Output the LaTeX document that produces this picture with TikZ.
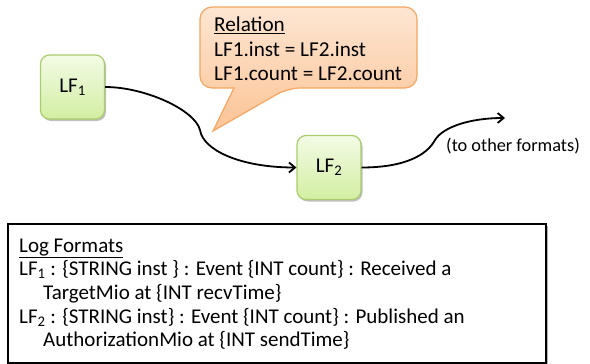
\documentclass[tikz,border=0pt]{standalone}
\usepackage{fontspec}
\setmainfont{Carlito}
\usetikzlibrary{arrows.meta,shadows}
\definecolor{lftop}{HTML}{F3FBE6}
\definecolor{lfbot}{HTML}{D3EEA2}
\definecolor{lfborder}{HTML}{A9CC6C}
\definecolor{caltop}{HTML}{FDE6D3}
\definecolor{calbot}{HTML}{FBC395}
\definecolor{calborder}{HTML}{F5A660}
\begin{document}
\begin{tikzpicture}[x=1pt,y=-1pt,
  lfbox/.style={draw=lfborder, line width=1.2pt, rounded corners=9pt,
    top color=lftop, bottom color=lfbot, minimum width=64pt, minimum height=64pt,
    inner sep=0pt, font=\fontsize{21}{24}\selectfont,
    drop shadow={shadow xshift=1.5pt,shadow yshift=-2pt,opacity=0.25,fill=black}},
  conn/.style={line width=1.8pt, -{Straight Barb[length=6pt,width=10pt]}},
  calloutbg/.style={draw=calborder, line width=1.2pt, top color=caltop, bottom color=calbot},
  logbox/.style={draw=black, line width=1.8pt, fill=white, inner sep=0pt,
    drop shadow={shadow xshift=2pt,shadow yshift=-2pt,opacity=0.3,fill=black}},
  txt/.style={inner sep=0pt, align=left}]
\useasboundingbox (0,0) rectangle (590,364);

% callout
\path[calloutbg] (300,7) [rounded corners=12pt] -- (417,7) -- (417,88) -- (288,88)
  [sharp corners] -- (213,131) -- (234,88) -- (214,88)
  [rounded corners=12pt] -- (200,88) -- (200,7) -- cycle;
\node[txt, anchor=north west, font=\fontsize{21.2}{24.5}\selectfont] (rel) at (214,17)
  {\underline{Relation}\\LF1.inst = LF2.inst\\LF1.count = LF2.count};

% format nodes
\node[lfbox] (lf1) at (72.5,87) {LF\textsubscript{1}};
\node[lfbox] (lf2) at (329,167.5) {LF\textsubscript{2}};

% connectors
\coordinate (m1) at (200,130);
\coordinate (m2) at (435,140);
\coordinate (out) at (505,118);
\draw[conn] (lf1.east) .. controls (145,87) and (195,110) .. (m1)
  .. controls (203,150) and (240,167.5) .. (lf2.west);
\draw[conn] (lf2.east) .. controls (405,167.5) and (427,155) .. (m2)
  .. controls (443,127) and (470,118) .. (out);
\node[txt, font=\fontsize{18.3}{21}\selectfont] (other) at (513,146) {(to other formats)};

% log formats
\node[logbox, anchor=north west, minimum width=538pt, minimum height=139pt] (logbox) at (7,223) {};
\node[txt, anchor=north west, font=\fontsize{21}{23.7}\selectfont] (logtext) at (19,238.5)
  {\underline{Log Formats}\\
   LF\textsubscript{1} : \{STRING inst \} : Event \{INT count\} : Received a\\
   \hspace*{24pt}TargetMio at \{INT recvTime\}\\
   LF\textsubscript{2} : \{STRING inst\} : Event \{INT count\} : Published an\\
   \hspace*{24pt}AuthorizationMio at \{INT sendTime\}};
\end{tikzpicture}
\end{document}
